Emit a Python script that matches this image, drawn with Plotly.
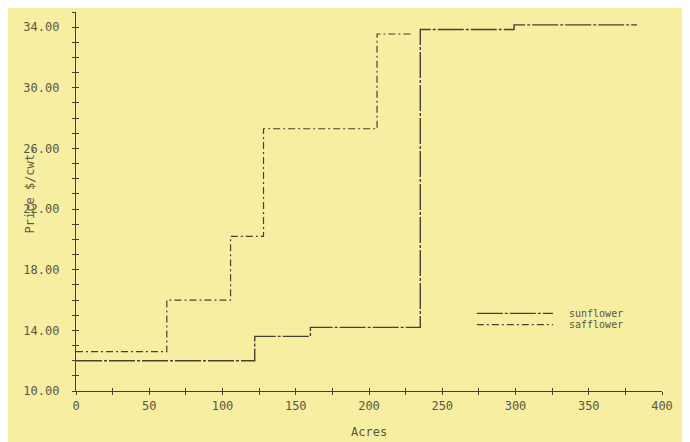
import plotly.graph_objects as go

# ---- data ----
sunflower_acres = [0, 122, 160, 235, 299, 383]
sunflower_price = [12.0, 13.6, 14.2, 33.85, 34.15, 34.15]

safflower_acres = [0, 62, 105.5, 128, 205.5, 230]
safflower_price = [12.6, 16.0, 20.2, 27.3, 33.55, 33.55]

x_tick_vals = list(range(0, 401, 25))
x_tick_text = [str(v) if v % 50 == 0 else "" for v in x_tick_vals]
y_tick_vals = list(range(10, 36))
y_tick_text = [f"{v:.2f}" if (v - 10) % 4 == 0 and v <= 34 else "" for v in y_tick_vals]

BG = "#f7eea2"
INK = "#45432f"
TXT = "#5a5842"
FONT = "DejaVu Sans Mono"

fig = go.Figure()
fig.add_trace(go.Scatter(x=sunflower_acres, y=sunflower_price, mode="lines",
                         line=dict(shape="hv", color=INK, width=1.4, dash="26px,2px,3px,2px"),
                         name="sunflower", showlegend=False))
fig.add_trace(go.Scatter(x=safflower_acres, y=safflower_price, mode="lines",
                         line=dict(shape="hv", color=INK, width=1.2, dash="7px,3px,2px,3px"),
                         name="safflower", showlegend=False))

axis_common = dict(showgrid=False, zeroline=False, showline=True, linecolor=INK, linewidth=1.4,
                   tickcolor=INK, ticklen=3, tickwidth=1.2)
fig.update_layout(
    width=682, height=434,
    margin=dict(l=68, r=28, t=4, b=51),
    paper_bgcolor=BG, plot_bgcolor=BG,
    font=dict(family=FONT, size=12, color=TXT),
    xaxis=dict(range=[0, 400], tickvals=x_tick_vals, ticktext=x_tick_text, ticks="outside",
               tickfont=dict(family=FONT, size=12, color=TXT), **axis_common),
    yaxis=dict(range=[10, 35], tickvals=y_tick_vals, ticktext=y_tick_text, ticks="outside",
               ticklabelstandoff=10,
               tickfont=dict(family=FONT, size=12, color=TXT), **axis_common),
    xaxis2=dict(range=[0, 400], overlaying="x", anchor="y", side="bottom", tickvals=x_tick_vals,
                ticks="inside", showticklabels=False, **axis_common),
    yaxis2=dict(range=[10, 35], overlaying="y", anchor="x", side="left", tickvals=y_tick_vals,
                ticks="inside", showticklabels=False, **axis_common),
    showlegend=False,
)
# invisible trace so the overlay axes draw
fig.add_trace(go.Scatter(x=[0], y=[10], xaxis="x2", yaxis="y2", mode="markers",
                         marker=dict(opacity=0), hoverinfo="skip", showlegend=False))

# axis titles
fig.add_annotation(text="Acres", xref="paper", yref="paper", x=0.5, y=-0.108,
                   showarrow=False, font=dict(family=FONT, size=12, color=TXT), yanchor="middle")
fig.add_annotation(text="Price $/cwt.", xref="paper", yref="paper", x=-0.078, y=0.53,
                   textangle=-90, showarrow=False, font=dict(family=FONT, size=12, color=TXT),
                   xanchor="center", yanchor="middle")

# hand-drawn style legend
legend_items = [("sunflower", "26px,2px,3px,2px", 0.205), ("safflower", "7px,3px,2px,3px", 0.175)]
for label, dash, ly in legend_items:
    fig.add_shape(type="line", xref="paper", yref="paper", x0=0.684, x1=0.814, y0=ly, y1=ly,
                  line=dict(color=INK, width=1.2, dash=dash))
    fig.add_annotation(text=label, xref="paper", yref="paper", x=0.838, y=ly, xanchor="left",
                       yanchor="middle", showarrow=False, font=dict(family=FONT, size=10, color=TXT))

fig.write_html("out.html")
